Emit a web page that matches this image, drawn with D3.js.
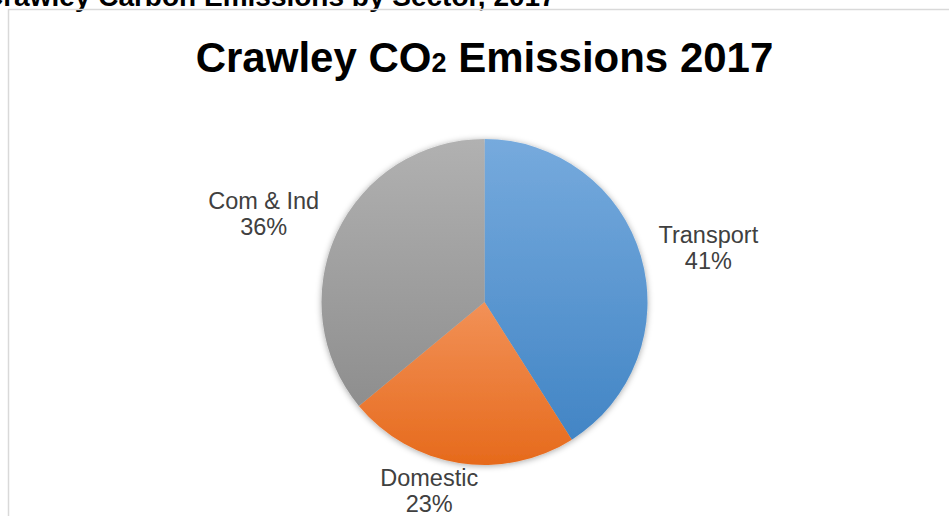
<!DOCTYPE html>
<html>
<head>
<meta charset="utf-8">
<script src="https://cdn.jsdelivr.net/npm/d3@7"></script>
<style>
  body { margin: 0; background: #fff; overflow: hidden; }
  text { font-family: "Liberation Sans", Arial, sans-serif; }
</style>
</head>
<body>
<div id="chart"></div>
<script>
///////////////////////////////////////////////////////////////////////////
////////////////////////////////// Data ///////////////////////////////////
///////////////////////////////////////////////////////////////////////////
var categories = ["Transport", "Domestic", "Com & Ind"]
var shares = [41, 23, 36]
var pageTitle = "Crawley Carbon Emissions by Sector, 2017"
var chartTitle = ["Crawley CO", "2", " Emissions 2017"]

///////////////////////////////////////////////////////////////////////////
///////////////////////////////// Globals /////////////////////////////////
///////////////////////////////////////////////////////////////////////////
var totalWidth = 949
var totalHeight = 516
var center = { x: 484.5, y: 302 }
var radius = 163
var labelGap = 20
var lineHeight = 26
// best-fit labels get pushed about by the chart edge
var labelNudge = { "Transport": [0, 4], "Domestic": [-19, -17], "Com & Ind": [-5, 1] }

var topColors = ["#76aadd", "#f29157", "#b1b1b1"]
var bottomColors = ["#4285c5", "#e66a1c", "#8e8e8e"]

var svg = d3.select("#chart").append("svg")
  .attr("width", totalWidth)
  .attr("height", totalHeight)

var defs = svg.append("defs")

///////////////////////////////////////////////////////////////////////////
//////////////////////////// Frame and titles /////////////////////////////
///////////////////////////////////////////////////////////////////////////
svg.append("text")
  .attr("x", -17)
  .attr("y", 6)
  .attr("font-size", "28px")
  .attr("font-weight", "bold")
  .attr("fill", "#000")
  .text(pageTitle)

svg.append("rect")
  .attr("x", 8.5)
  .attr("y", 9.5)
  .attr("width", 1000)
  .attr("height", 600)
  .attr("fill", "none")
  .attr("stroke", "#d9d9d9")
  .attr("stroke-width", 1.5)

var title = svg.append("text")
  .attr("x", center.x)
  .attr("y", 72)
  .attr("text-anchor", "middle")
  .attr("font-size", "42px")
  .attr("font-weight", "bold")
  .attr("fill", "#000")

title.selectAll("tspan").data(chartTitle).enter().append("tspan")
  .attr("font-size", (d, i) => i === 1 ? "27px" : null)
  .text(d => d)

///////////////////////////////////////////////////////////////////////////
///////////////////////////////// The pie /////////////////////////////////
///////////////////////////////////////////////////////////////////////////
var data = categories.map((c, i) => ({ name: c, value: shares[i], idx: i }))
var total = d3.sum(shares)
var pct = d3.format(".0%")

var colorTop = d3.scaleOrdinal().domain(categories).range(topColors)
var colorBottom = d3.scaleOrdinal().domain(categories).range(bottomColors)

categories.forEach((c, i) => {
  var grad = defs.append("linearGradient")
    .attr("id", "grad-" + i)
    .attr("x1", 0).attr("y1", 0).attr("x2", 0).attr("y2", 1)
  grad.append("stop").attr("offset", "0%").attr("stop-color", colorTop(c))
  grad.append("stop").attr("offset", "100%").attr("stop-color", colorBottom(c))
})

var shadow = defs.append("filter")
  .attr("id", "shadow")
  .attr("x", "-10%").attr("y", "-10%")
  .attr("width", "120%").attr("height", "120%")
shadow.append("feDropShadow")
  .attr("dx", 0).attr("dy", 1)
  .attr("stdDeviation", 3)
  .attr("flood-color", "#000")
  .attr("flood-opacity", 0.35)

var pie = d3.pie().sort(null).value(d => d.value)
var arc = d3.arc().innerRadius(0).outerRadius(radius)
var arcs = pie(data)

var g = svg.append("g")
  .attr("transform", "translate(" + center.x + "," + center.y + ")")

g.append("g")
  .attr("filter", "url(#shadow)")
  .selectAll("path")
  .data(arcs)
  .enter().append("path")
    .attr("d", arc)
    .attr("fill", d => "url(#grad-" + d.data.idx + ")")

///////////////////////////////////////////////////////////////////////////
///////////////////////////////// Labels //////////////////////////////////
///////////////////////////////////////////////////////////////////////////
var labelArc = d3.arc().innerRadius(radius + labelGap).outerRadius(radius + labelGap)

var labels = g.selectAll(".label")
  .data(arcs)
  .enter().append("text")
    .attr("class", "label")
    .attr("text-anchor", "middle")
    .attr("font-size", "23.5px")
    .attr("fill", "#404040")

labels.append("tspan").attr("x", 0).attr("dy", 0).text(d => d.data.name)
labels.append("tspan").attr("x", 0).attr("dy", lineHeight).text(d => pct(d.data.value / total))

labels.each(function (d) {
  var bb = this.getBBox()
  var mid = (d.startAngle + d.endAngle) / 2
  var p = labelArc.centroid(d)
  var cx = p[0] + bb.width / 2 * Math.sin(mid)
  var cy = p[1] - bb.height / 2 * Math.cos(mid)
  var nudge = labelNudge[d.data.name] || [0, 0]
  cx += nudge[0]
  cy += nudge[1]
  // bb.y is relative to first baseline
  var baseline = cy - (bb.y + bb.height / 2)
  d3.select(this).attr("transform", "translate(" + cx + "," + baseline + ")")
})
</script>
</body>
</html>
